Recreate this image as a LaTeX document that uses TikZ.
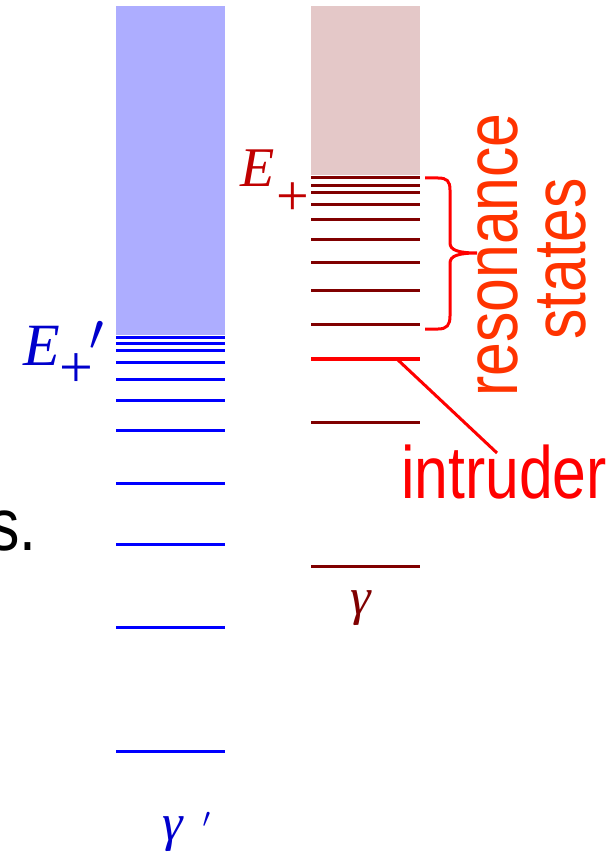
\documentclass[tikz,border=0pt]{standalone}
\usepackage{fontspec}
\usepackage{graphicx}
\setmainfont{Liberation Serif}
\newfontfamily\narrowsans[FakeStretch=0.82]{Liberation Sans}
\usepackage{xcolor}
\usepackage{tikz}
\usetikzlibrary{positioning}

\definecolor{contblue}{RGB}{173,173,255}
\definecolor{contred}{RGB}{228,200,200}
\definecolor{lvlblue}{RGB}{0,0,255}
\definecolor{lvldark}{RGB}{128,0,0}
\definecolor{lblblue}{RGB}{0,0,204}
\definecolor{lblred}{RGB}{192,0,0}
\definecolor{intrred}{RGB}{255,0,0}
\definecolor{resorange}{RGB}{255,51,0}

\begin{document}
\begin{tikzpicture}[x=1pt, y=-1pt,
    stateline/.style={draw=#1, line width=3pt},
    symlabel/.style={inner sep=0pt, text=#1},
    biglabel/.style={inner sep=0pt, text=#1, font=\narrowsans\fontsize{74}{74}\selectfont},
    bracepen/.style={draw=intrred, line width=3pt},
    pointer/.style={draw=intrred, line width=3pt}
]
\useasboundingbox (0,0) rectangle (615,853);

%% cut-off word at the left edge
\node[biglabel=black, anchor=base west] (cutword) at (-11,550) {s.};

%% Spectrum gamma' (blue)
\fill[contblue] (116,6) rectangle (225,335);
\foreach \y in {337,343.5,350,362,379.5,400.5,430.5,483.5,544,627,751.5}
    \draw[stateline=lvlblue] (116,\y) -- (225,\y);
\node[symlabel=lblblue, anchor=base west] (Eblue) at (23,365)
    {\fontsize{60}{60}\selectfont\itshape E\raisebox{-22.7pt}{\upshape\fontsize{60}{60}\selectfont +}\kern-4pt\raisebox{14.5pt}{\scalebox{2.1}{$\prime$}}};
\node[symlabel=lblblue, anchor=base west] (gamblue) at (162,840)
    {\fontsize{52}{52}\selectfont\itshape γ\kern20pt\raisebox{12.5pt}{\scalebox{1.1}{$\prime$}}};

%% Spectrum gamma (red)
\fill[contred] (311,6) rectangle (420,175);
\foreach \y in {177.5,185,192,204,219,239.5,262,290.5,324.5,422.7,566.7}
    \draw[stateline=lvldark] (311,\y) -- (420,\y);
\draw[draw=intrred, line width=4pt] (311,359) -- (420,359);
\node[symlabel=lblred, anchor=base west] (Ered) at (240,186)
    {\fontsize{56}{56}\selectfont\itshape E\kern2pt\raisebox{-29.7pt}{\upshape\fontsize{58}{58}\selectfont +}};
\node[symlabel=lvldark, anchor=base] (gamred) at (361,614)
    {\fontsize{52}{52}\selectfont\itshape γ};

%% resonance states
\draw[bracepen] (425,178) -- (438,178) .. controls (447,178) and (450,181) .. (450,190)
    -- (450,243) .. controls (450,250) and (458,253) .. (477,253)
    .. controls (458,253) and (450,256) .. (450,263)
    -- (450,316) .. controls (450,325) and (447,329) .. (438,329) -- (425,329);
\node[biglabel=resorange, rotate=90, anchor=base] (reso) at (517,255) {resonance};
\node[biglabel=resorange, rotate=90, anchor=base] (states) at (585,259) {states};

%% intruder
\node[biglabel=intrred, anchor=base west] (intruder) at (401,498) {intruder};
\coordinate (intrstart) at (398,360);
\coordinate (intrend) at (497,453);
\draw[pointer] (intrstart) -- (intrend);

\end{tikzpicture}
\end{document}
